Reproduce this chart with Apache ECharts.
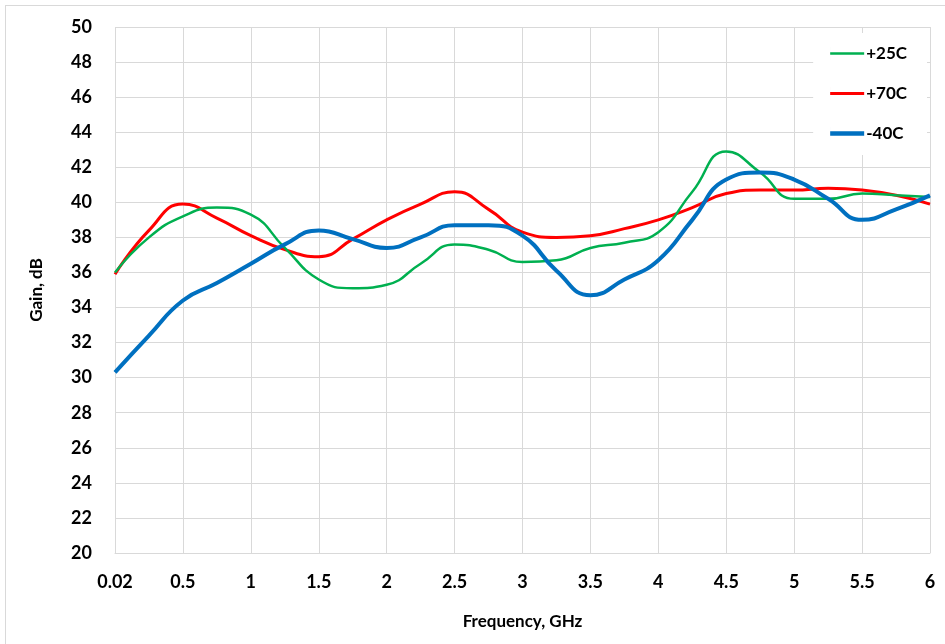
<!DOCTYPE html>
<html>
<head>
<meta charset="utf-8">
<script src="https://cdn.jsdelivr.net/npm/echarts@6/dist/echarts.min.js"></script>
<style>
html,body{margin:0;padding:0;background:#fff;}
#chart{width:945px;height:644px;}
#frame{position:absolute;left:5px;top:5px;width:960px;height:660px;border:1px solid #d9d9d9;pointer-events:none;}
</style>
</head>
<body>
<div id="chart"></div>
<div id="frame"></div>
<script>
// Category positions: labelled ticks plus half-way readings between them
const categories = ['0.02','0.26','0.5','0.75','1','1.25','1.5','1.75','2','2.25','2.5','2.75','3',
                    '3.25','3.5','3.75','4','4.25','4.5','4.75','5','5.25','5.5','5.75','6'];
const gain25  = [36.0, 38.0, 39.2, 39.7, 39.3, 37.4, 35.6, 35.1, 35.3, 36.5, 37.6, 37.3, 36.6,
                 36.7, 37.4, 37.7, 38.3, 40.6, 42.9, 41.7, 40.2, 40.2, 40.5, 40.4, 40.3];
const gain70  = [35.9, 38.4, 39.9, 39.1, 38.1, 37.3, 36.9, 37.9, 39.0, 39.9, 40.6, 39.6, 38.3,
                 38.0, 38.1, 38.5, 39.0, 39.7, 40.5, 40.7, 40.7, 40.8, 40.7, 40.4, 39.9];
const gainM40 = [30.3, 32.4, 34.4, 35.4, 36.5, 37.6, 38.4, 37.9, 37.4, 38.0, 38.7, 38.7, 38.1,
                 36.1, 34.7, 35.6, 36.7, 39.0, 41.3, 41.7, 41.3, 40.2, 39.0, 39.6, 40.4];
const yTicks = {min: 20, max: 50, interval: 2};

const font = 'Lato, "Liberation Sans", sans-serif';
function lineIcon(h) {
  const y0 = 7 - h / 2, y1 = 7 + h / 2;
  return 'path://M0,' + y0 + 'H34V' + y1 + 'H0Z M0,0H0.01V14H0Z';
}
const chart = echarts.init(document.getElementById('chart'));
chart.setOption({
  animation: false,
  backgroundColor: '#fff',
  grid: {left: 115, right: 15, top: 27, bottom: 91, containLabel: false},
  legend: {
    orient: 'vertical',
    right: 18,
    top: 33,
    backgroundColor: '#fff',
    padding: [12, 20, 13, 17],
    itemWidth: 34,
    itemHeight: 14,
    itemGap: 23,
    textStyle: {fontFamily: font, fontWeight: 'bold', fontSize: 17, color: '#000', padding: [0,0,0,-3]},
    data: [
      {name: '+25C', icon: lineIcon(2.5)},
      {name: '+70C', icon: lineIcon(3)},
      {name: '-40C', icon: lineIcon(4.5)}
    ]
  },
  xAxis: {
    type: 'category',
    data: categories,
    boundaryGap: false,
    name: 'Frequency, GHz',
    nameLocation: 'middle',
    nameGap: 60,
    nameTextStyle: {fontFamily: font, fontWeight: 'bold', fontSize: 17, color: '#000'},
    axisLine: {show: true, lineStyle: {color: '#d9d9d9', width: 1}},
    axisTick: {show: false},
    axisLabel: {interval: 1, fontFamily: font, fontWeight: 'bold', fontSize: 18, color: '#000', margin: 20},
    splitLine: {show: true, interval: 1, lineStyle: {color: '#d9d9d9', width: 1}}
  },
  yAxis: {
    type: 'value',
    min: yTicks.min,
    max: yTicks.max,
    interval: yTicks.interval,
    name: 'Gain, dB',
    nameLocation: 'middle',
    nameGap: 70,
    nameRotate: 90,
    nameTextStyle: {fontFamily: font, fontWeight: 'bold', fontSize: 17, color: '#000'},
    axisLine: {show: false},
    axisTick: {show: false},
    axisLabel: {fontFamily: font, fontWeight: 'bold', fontSize: 18, color: '#000', margin: 23},
    splitLine: {show: true, lineStyle: {color: '#d9d9d9', width: 1}}
  },
  series: [
    {name: '+25C', type: 'line', data: gain25, smooth: 0.5, symbol: 'none',
     lineStyle: {color: '#00b050', width: 2.5}, itemStyle: {color: '#00b050'}, z: 3},
    {name: '+70C', type: 'line', data: gain70, smooth: 0.5, symbol: 'none',
     lineStyle: {color: '#ff0000', width: 3}, itemStyle: {color: '#ff0000'}, z: 2},
    {name: '-40C', type: 'line', data: gainM40, smooth: 0.5, symbol: 'none',
     lineStyle: {color: '#0070c0', width: 4}, itemStyle: {color: '#0070c0'}, z: 4}
  ]
});
</script>
</body>
</html>
